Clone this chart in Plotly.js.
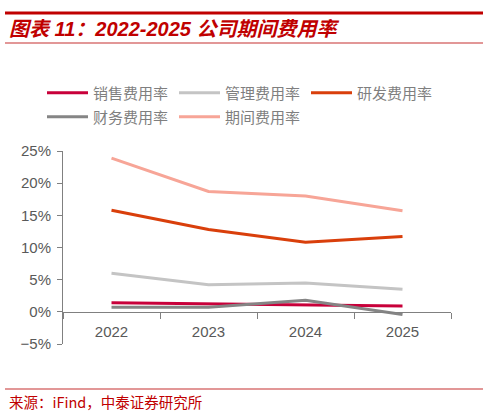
<!DOCTYPE html>
<html>
<head>
<meta charset="utf-8">
<script src="https://cdn.plot.ly/plotly-3.0.1.min.js"></script>
<style>
  html, body { margin: 0; padding: 0; background: #fff; }
  #chart { width: 488px; height: 413px; }
</style>
</head>
<body>
<div id="chart"></div>
<script>
// 年份
var years = ['2022', '2023', '2024', '2025']

// 各项费用率 (%)
var xiaoshou = [1.4, 1.2, 1.0, 0.9]     // 销售费用率
var guanli = [6.0, 4.2, 4.5, 3.5]       // 管理费用率
var yanfa = [15.8, 12.8, 10.8, 11.7]    // 研发费用率
var caiwu = [0.7, 0.7, 1.8, -0.4]       // 财务费用率
var qijian = [23.9, 18.7, 18.0, 15.7]   // 期间费用率

var names = ['销售费用率', '管理费用率', '研发费用率', '财务费用率', '期间费用率']
var colors = ['#C8003A', '#C4C4C4', '#D93F0B', '#858585', '#F7A597']

// 绘图区域的像素边界
var W = 488, H = 413
var L = 63, R = 451, T = 151, B = 344
function px(x) { return (x - L) / (R - L) }
function py(y) { return (B - y) / (B - T) }

var series = [xiaoshou, guanli, yanfa, caiwu, qijian]
var data = series.map(function (vals, i) {
  return {
    x: years,
    y: vals,
    name: names[i],
    type: 'scatter',
    mode: 'lines',
    line: { color: colors[i], width: 3 },
    hoverinfo: 'skip',
    // 前三项放第一行图例，后两项放第二行
    legend: i < 3 ? 'legend' : 'legend2'
  }
})

var red = '#C00000'

var legendBase = {
  orientation: 'h',
  xanchor: 'left',
  yanchor: 'middle',
  entrywidth: 76,
  itemwidth: 41,
  tracegroupgap: 0,
  bgcolor: 'rgba(0,0,0,0)',
  font: { size: 15, color: '#7F7F7F', family: 'Noto Sans CJK SC, sans-serif' }
}

var layout = {
  width: W,
  height: H,
  margin: { l: L, r: W - R, t: T, b: H - B, pad: 0 },
  paper_bgcolor: '#fff',
  plot_bgcolor: '#fff',
  font: { family: 'Liberation Sans, Arial, Noto Sans CJK SC, sans-serif', color: '#595959' },
  showlegend: true,
  legend: Object.assign({}, legendBase, { x: px(42), y: py(93) }),
  legend2: Object.assign({}, legendBase, { x: px(42), y: py(117) }),
  xaxis: {
    type: 'category',
    range: [-0.5, 3.5],
    anchor: 'free',
    position: 5 / 30,
    showline: true,
    linecolor: '#808080',
    linewidth: 1,
    ticks: 'outside',
    tickson: 'boundaries',
    ticklen: 6,
    tickcolor: '#808080',
    ticklabelstandoff: 6,
    showgrid: false,
    zeroline: false,
    tickfont: { size: 15, color: '#595959' }
  },
  yaxis: {
    range: [-5, 25],
    dtick: 5,
    tick0: 0,
    ticksuffix: '%',
    showline: true,
    linecolor: '#808080',
    linewidth: 1,
    ticks: 'outside',
    ticklen: 5,
    tickcolor: '#808080',
    ticklabelstandoff: 3,
    showgrid: false,
    zeroline: false,
    tickfont: { size: 15, color: '#595959' }
  },
  shapes: [
    { type: 'line', xref: 'paper', yref: 'paper', x0: px(5), x1: px(483), y0: py(13), y1: py(13),
      line: { color: red, width: 3 } },
    { type: 'line', xref: 'paper', yref: 'paper', x0: px(5), x1: px(483), y0: py(43), y1: py(43),
      line: { color: '#D87474', width: 1.5 } },
    { type: 'line', xref: 'paper', yref: 'paper', x0: px(5), x1: px(483), y0: py(389), y1: py(389),
      line: { color: '#D87474', width: 1.5 } }
  ],
  annotations: [
    { xref: 'paper', yref: 'paper', x: px(7), y: py(29), xanchor: 'left', yanchor: 'middle',
      showarrow: false, text: '<b><i>图表 11：2022-2025 公司期间费用率</i></b>',
      font: { size: 20, color: red, family: 'Liberation Sans, Noto Sans CJK SC, sans-serif' } },
    { xref: 'paper', yref: 'paper', x: px(7), y: py(401), xanchor: 'left', yanchor: 'middle',
      showarrow: false, text: '来源：iFind，中泰证券研究所',
      font: { size: 14.5, color: red, family: 'Noto Sans CJK SC, sans-serif' } }
  ]
}

Plotly.newPlot('chart', data, layout, { staticPlot: true, displayModeBar: false })
</script>
</body>
</html>
